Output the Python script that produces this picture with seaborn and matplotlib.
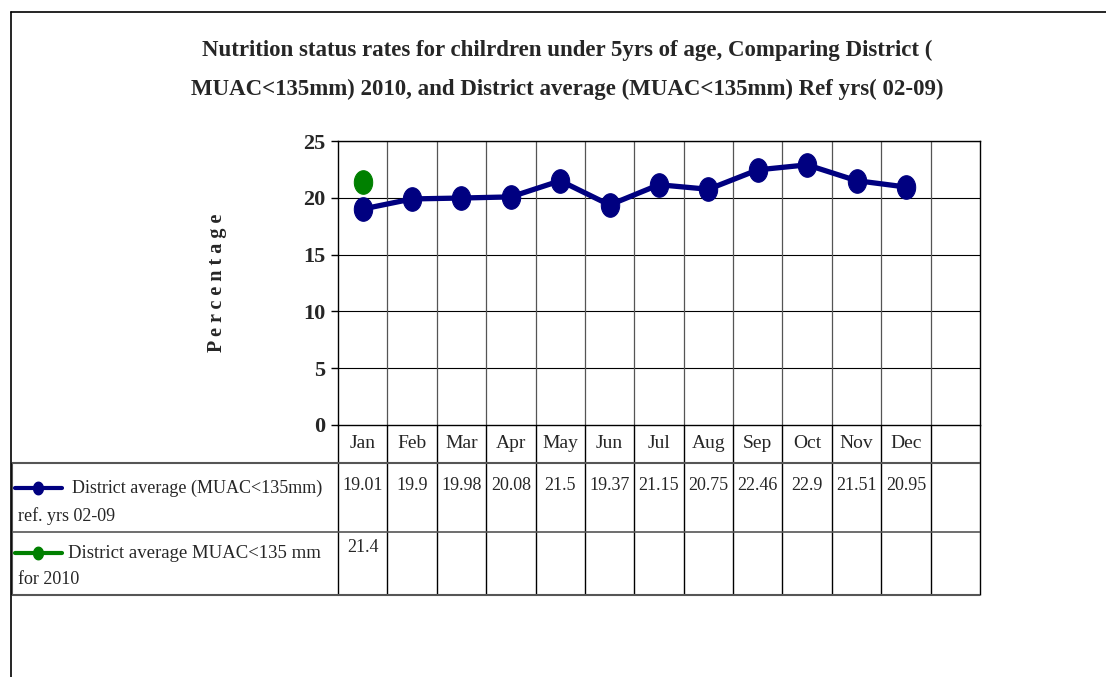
"""Monthly MUAC<135mm rates, Excel-style line chart with a data table below."""

import matplotlib
matplotlib.use("Agg")
import matplotlib.pyplot as plt
from matplotlib.lines import Line2D
import numpy as np
import pandas as pd
import seaborn as sns

# ─── Data ─────────────────────────────────────────────────────────────────────

months = ["Jan", "Feb", "Mar", "Apr", "May", "Jun",
          "Jul", "Aug", "Sep", "Oct", "Nov", "Dec"]
ref_values = [19.01, 19.9, 19.98, 20.08, 21.5, 19.37,
              21.15, 20.75, 22.46, 22.9, 21.51, 20.95]
year2010_values = [21.4]
y_ticks = [0, 5, 10, 15, 20, 25]

ref_label = ["District average (MUAC<135mm)", "ref. yrs 02-09"]
new_label = ["District average MUAC<135 mm", "for 2010"]
ref_table = ["19.01", "19.9", "19.98", "20.08", "21.5", "19.37",
             "21.15", "20.75", "22.46", "22.9", "21.51", "20.95"]
new_table = ["21.4"]

title = ("Nutrition status rates for chilrdren under 5yrs of age, Comparing District (\n"
         "MUAC<135mm) 2010, and District average (MUAC<135mm) Ref yrs( 02-09)")

NAVY = "#000080"
GREEN = "#008000"
N_COLS = 13  # 12 months plus one empty column, as in the source sheet

# tall ellipse marker (the source image is squeezed horizontally)
_t = np.linspace(0, 2 * np.pi, 40)
ELLIPSE = np.column_stack([0.78 * np.cos(_t), np.sin(_t)])

# ─── Figure setup ─────────────────────────────────────────────────────────────

W, H = 1106, 677
sns.set_theme(style="white")
plt.rcParams["font.family"] = ["Liberation Serif", "DejaVu Serif"]

fig = plt.figure(figsize=(W / 100, H / 100), dpi=100)


def fig_rect(left, top, right, bottom):
    return [left / W, 1 - bottom / H, (right - left) / W, (bottom - top) / H]


# outer frame (left and top edges only visible in the source)
fig.add_artist(Line2D([11 / W, 11 / W], [0, 1 - 12 / H], color="black", lw=1.2))
fig.add_artist(Line2D([11 / W, 1], [1 - 12 / H, 1 - 12 / H], color="black", lw=1.2))

fig.text(567 / W, 1 - 70 / H, title, ha="center", va="center",
         fontsize=16.5, fontweight="bold", linespacing=2.1)

# ─── Line chart ───────────────────────────────────────────────────────────────

ax = fig.add_axes(fig_rect(338, 141, 980, 425))
df_ref = pd.DataFrame({"x": np.arange(len(months)), "value": ref_values})
df_new = pd.DataFrame({"x": np.arange(len(year2010_values)), "value": year2010_values})

sns.lineplot(data=df_ref, x="x", y="value", ax=ax, color=NAVY, lw=3.8,
             marker=ELLIPSE, markersize=17, markeredgecolor=NAVY, zorder=3)
sns.lineplot(data=df_new, x="x", y="value", ax=ax, color=GREEN, lw=3.8,
             marker=ELLIPSE, markersize=17, markeredgecolor=GREEN, zorder=3)

ax.set_xlim(-0.5, N_COLS - 0.5)
ax.set_ylim(0, 25)
ax.set_yticks(y_ticks)
ax.set_yticklabels([str(t) for t in y_ticks], fontsize=16, fontweight="bold")
ax.set_xticks([])
ax.set_xlabel("")
ax.set_ylabel("P e r c e n t a g e", fontsize=14.5, fontweight="bold", labelpad=55)
ax.tick_params(axis="y", left=True, length=5, width=1, color="black", pad=4)

for y in y_ticks[1:]:
    ax.axhline(y, color="black", lw=0.8, zorder=1)
for b in np.arange(0.5, N_COLS - 0.5):
    ax.axvline(b, color="#555555", lw=0.9, zorder=1)
for s in ax.spines.values():
    s.set_color("black")
    s.set_linewidth(1)

# ─── Data table ───────────────────────────────────────────────────────────────

tab = fig.add_axes(fig_rect(12, 425, 980, 595))
col_w = 642 / N_COLS
label_w = 326 / col_w
x_left = -0.5 - label_w
tab.set_xlim(x_left, N_COLS - 0.5)
tab.set_ylim(170, 0)
tab.axis("off")

edges = np.arange(-0.5, N_COLS)
# column separators
tab.vlines(edges, 0, 170, color="black", lw=1, clip_on=False)
tab.vlines(x_left, 38, 170, color="#555555", lw=1.5, clip_on=False)
# row separators
tab.hlines(38, x_left, N_COLS - 0.5, color="#555555", lw=1.5, clip_on=False)
tab.hlines(107, x_left, N_COLS - 0.5, color="#555555", lw=1.2, clip_on=False)
tab.hlines(170, x_left, N_COLS - 0.5, color="#555555", lw=1.5, clip_on=False)

for i, m in enumerate(months):
    tab.text(i, 18, m, ha="center", va="center", fontsize=14)
for i, v in enumerate(ref_table):
    tab.text(i, 61, v, ha="center", va="center", fontsize=13)
for i, v in enumerate(new_table):
    tab.text(i, 122, v, ha="center", va="center", fontsize=13)


def legend_key(y, color):
    k0 = x_left + 3 / col_w
    k1 = x_left + 50 / col_w
    tab.plot([k0, k1], [y, y], color=color, lw=3, clip_on=False)
    tab.plot([(k0 + k1) / 2], [y], marker=ELLIPSE, color=color, markersize=9, clip_on=False)


legend_key(63, NAVY)
tab.text(x_left + 60 / col_w, 63, ref_label[0], ha="left", va="center", fontsize=13)
tab.text(x_left + 6 / col_w, 91, ref_label[1], ha="left", va="center", fontsize=13)

legend_key(128, GREEN)
tab.text(x_left + 56 / col_w, 128, new_label[0], ha="left", va="center", fontsize=13.5)
tab.text(x_left + 6 / col_w, 155, new_label[1], ha="left", va="center", fontsize=13)

fig.savefig("out.png", dpi=100)
plt.close(fig)
